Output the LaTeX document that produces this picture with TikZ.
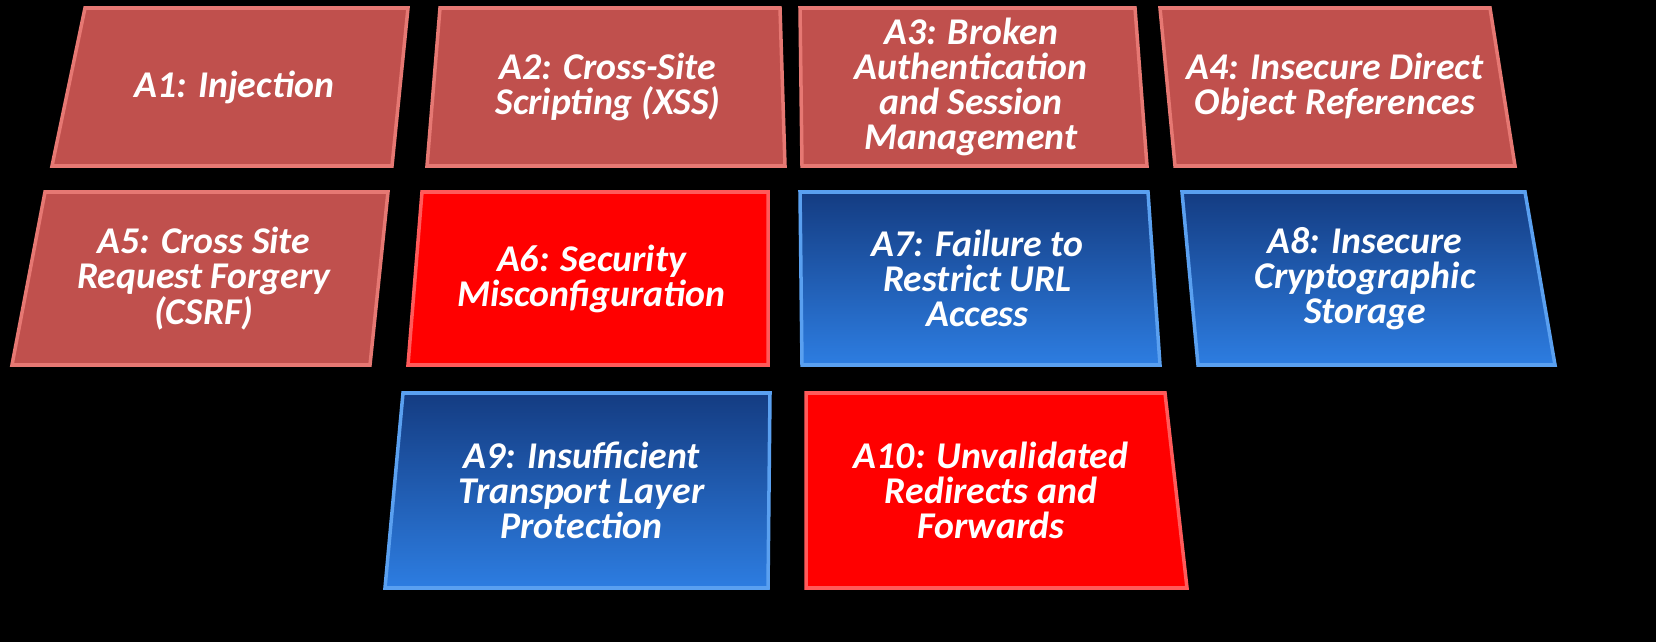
\documentclass[tikz,border=0pt]{standalone}
\usepackage{fontspec}
\setmainfont{Carlito}
\definecolor{owaspred}{RGB}{192,80,77}
\definecolor{owaspedge}{RGB}{230,120,115}
\definecolor{hotred}{RGB}{255,0,0}
\definecolor{hotedge}{RGB}{255,90,90}
\definecolor{bluetop}{RGB}{20,60,130}
\definecolor{bluebot}{RGB}{45,125,225}
\definecolor{blueedge}{RGB}{90,160,240}
\tikzset{
    oldtile/.style = {fill=owaspred, draw=owaspedge, line width=2pt},
    newtile/.style = {fill=hotred, draw=hotedge, line width=2pt},
    bluetile/.style = {top color=bluetop, bottom color=bluebot, draw=blueedge, line width=2pt},
    label/.style = {text=white, align=center, font=\fontsize{21.5}{20}\selectfont\bfseries\itshape}
}
% \tile{name}{top left x}{top right x}{bottom right x}{bottom left x}{top y}{bottom y}{style}{text}
\newcommand{\tile}[9]{%
    \draw[#8] (#2,#6) -- (#3,#6) -- (#4,#7) -- (#5,#7) -- cycle;
    \node[label] (#1) at ({(#2+#3+#4+#5)/4},{(#6+#7)/2}) {#9};
}
\begin{document}
\begin{tikzpicture}[x=0.02cm, y=-0.02cm]
    \fill[black] (0,0) rectangle (1656,642);

    % first row
    \tile{a1}{85}{408}{392}{52}{8}{166}{oldtile}{A1: Injection}
    \tile{a2}{440}{780}{785}{427}{8}{166}{oldtile}{A2: Cross-Site\\Scripting (XSS)}
    \tile{a3}{800}{1135}{1147}{802}{8}{166}{oldtile}{A3: Broken\\Authentication\\and Session\\Management}
    \tile{a4}{1160}{1490}{1515}{1175}{8}{166}{oldtile}{A4: Insecure Direct\\Object References}

    % second row
    \tile{a5}{45}{388}{370}{12}{192}{365}{oldtile}{A5: Cross Site\\Request Forgery\\(CSRF)}
    \tile{a6}{422}{768}{768}{408}{192}{365}{newtile}{A6: Security\\Misconfiguration}
    \tile{a7}{800}{1148}{1160}{802}{192}{365}{bluetile}{A7: Failure to\\Restrict URL\\Access}
    \tile{a8}{1182}{1525}{1555}{1198}{192}{365}{bluetile}{A8: Insecure\\Cryptographic\\Storage}

    % third row
    \tile{a9}{403}{770}{768}{385}{393}{588}{bluetile}{A9: Insufficient\\Transport Layer\\Protection}
    \tile{a10}{806}{1165}{1187}{806}{393}{588}{newtile}{A10: Unvalidated\\Redirects and\\Forwards}
\end{tikzpicture}
\end{document}
